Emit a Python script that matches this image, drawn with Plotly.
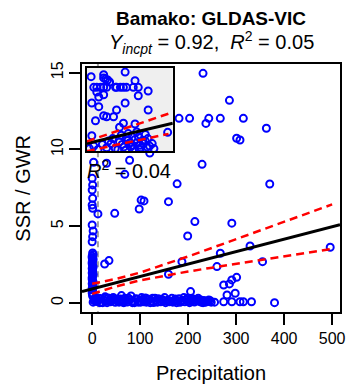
import plotly.graph_objects as go

# ---------------- data ----------------
x_ticks = [0, 100, 200, 300, 400, 500]
y_ticks = [0, 5, 10, 15]
x_range = [-21.2, 516.4]
y_range = [-0.59, 15.57]

# scattered points of the main panel
scat_x = [231, 286, 181, 203, 243, 237, 267, 315, 363, 301, 308, 229, 177, 370,
          159, 214, 291, 199, 3, 30, 78, 68, 120, 47, 12, 102, 108, 98, 26, 35,
          159, 187, 205, 267, 329, 260, 355, 496, 301, 291, 286, 274, 281, 298,
          274, 291, 308, 315, 332, 380]
scat_y = [14.96, 13.2, 12.03, 12.03, 12.03, 11.7, 12.03, 12.03, 11.38, 10.73,
          10.62, 9.03, 7.76, 7.75, 6.6, 5.3, 5.2, 4.36, 9.17, 9.1, 9.3, 8.38,
          9.77, 5.84, 5.8, 6.7, 6.65, 6.12, 2.54, 2.76, 1.87, 2.69, 0.74, 3.24,
          3.71, 2.37, 2.69, 3.63, 1.67, 1.5, 1.24, 1.17, 0.52, 0.63, 0.08, 0.08,
          0.08, 0.08, 0.08, 0.02]

# column of points at zero precipitation
col_x = [0, 1, 0, 1, 0, 1, 0, 2, 1, 0, 1, 0, 2, 0, 1, 0, 1, 2, 0, 1, 0, 2, 1, 0, 1,
         2, 0, 1, 0, 2, 1, 0, 1, 0, 2, 1, 0, 1]
col_y = [8.12, 7.69, 7.36, 6.82, 6.38, 6.17, 5.08, 4.69, 4.32, 3.99, 3.26, 3.05,
         2.85, 2.65, 2.45, 2.25, 2.05, 1.85, 1.65, 1.45, 1.25, 1.05, 0.85, 0.65, 0.45,
         3.15, 2.95, 2.75, 2.55, 2.35, 2.15, 1.95, 1.75, 1.55, 1.35, 1.15, 0.95, 0.55]

# dense band near zero
band_x = [5, 9, 14, 19, 24, 29, 33, 38, 43, 48, 53, 58, 63, 68, 73, 78, 83, 88, 93,
          98, 103, 108, 113, 118, 123, 128, 133, 138, 143, 148, 153, 158, 163, 168,
          173, 178, 183, 188, 193, 198, 203, 208, 213, 218, 223, 228, 233, 238, 243, 248]
band_y = [0.25, 0.1, 0.3, 0.05, 0.2, 0.12, 0.32, 0.08, 0.18, 0.04, 0.26, 0.1, 0.15,
          0.3, 0.06, 0.2, 0.1, 0.02, 0.24, 0.14, 0.35, 0.08, 0.05, 0.22, 0.12, 0.03,
          0.18, 0.28, 0.07, 0.15, 0.02, 0.2, 0.1, 0.05, 0.25, 0.12, 0.04, 0.18, 0.08,
          0.3, 0.02, 0.14, 0.06, 0.22, 0.1, 0.04, 0.16, 0.08, 0.2, 0.05]
band2_x = [2, 7, 12, 17, 22, 27, 36, 41, 46, 56, 61, 66, 71, 81, 86, 91, 101, 106,
           111, 121, 131, 141, 151, 161, 171, 181, 191, 201, 211, 221, 231, 241, 255]
band2_y = [0.05, 0.35, 0.15, 0.28, 0.02, 0.4, 0.1, 0.3, 0.22, 0.05, 0.48, 0.02, 0.2,
           0.45, 0.12, 0.28, 0.05, 0.25, 0.32, 0.02, 0.3, 0.15, 0.35, 0.08, 0.12,
           0.28, 0.35, 0.1, 0.25, 0.3, 0.02, 0.1, 0.05]
band3_x = [4, 11, 16, 26, 31, 39, 44, 51, 59, 64, 76, 84, 96, 109, 116, 126, 136,
           146, 156, 166, 176, 186, 196, 206, 216, 226, 236, 246]
band3_y = [0.15, 0.22, 0.02, 0.3, 0.02, 0.2, 0.35, 0.15, 0.25, 0.05, 0.3, 0.02,
           0.05, 0.18, 0.25, 0.3, 0.05, 0.22, 0.1, 0.3, 0.02, 0.1, 0.2, 0.25,
           0.15, 0.2, 0.05, 0.15]

# fit and confidence band of the main panel
fit_intercept = 0.92
fit_slope = 0.0081
ci_x = [0, 50, 100, 150, 200, 250, 300, 350, 400, 450, 500]
ci_upper = [1.25, 1.57, 1.98, 2.49, 3.03, 3.59, 4.15, 4.72, 5.28, 5.85, 6.42]
ci_lower = [0.59, 1.08, 1.47, 1.78, 2.05, 2.30, 2.55, 2.79, 3.04, 3.28, 3.52]

threshold_x = 12

# inset panel
inset_range_x = [0, 100]
inset_range_y = [0, 10]
inset_x = [4.9, 19.5, 44.5, 21.8, 24.1, 26.4, 19.5, 8, 11.5, 16.1, 19.5, 23, 33.3,
           34.5, 39, 42.5, 46, 54, 59.8, 56, 71.3, 59.8, 13.8, 11.5, 19.5, 5.7, 13.8,
           44.5, 34.5, 71.3, 19.5, 23, 31, 10, 42.5, 38, 56, 94, 5.7]
inset_y = [8.95, 9.19, 9.5, 8.67, 8.55, 8.31, 8.8, 7.67, 7.67, 7.67, 7.67, 7.67,
           7.67, 7.67, 7.67, 7.67, 7.67, 7.67, 7.67, 8.47, 7.23, 6.66, 6.5, 7.1, 6.78,
           5.78, 5.34, 5.78, 4.94, 4.94, 4.25, 4.13, 4.13, 3.65, 3.34, 2.86, 3.25,
           2.25, 1.84]
inset_dense_x = [3, 8, 13, 18, 23, 28, 33, 38, 43, 48, 53, 58, 63, 68, 73, 78, 36, 41,
                 46, 51, 56, 61, 66, 71, 76, 40, 45, 50, 55, 60, 65, 70, 48, 58, 68,
                 30, 25, 62]
inset_dense_y = [0.3, 0.6, 0.2, 0.8, 0.4, 0.9, 0.3, 1.1, 0.5, 1.3, 0.7, 1.0, 0.4, 1.2,
                 0.6, 0.3, 0.2, 0.8, 1.6, 0.5, 1.4, 0.2, 0.9, 1.5, 0.9, 1.9, 0.1, 1.0,
                 0.3, 1.7, 1.3, 0.5, 2.1, 2.3, 2.0, 1.5, 1.2, 0.7]
inset_intercept = 0.90
inset_slope = 0.0244
inset_ci_x = [0, 25, 50, 75, 95]
inset_ci_upper = [1.17, 2.05, 2.92, 3.80, 4.50]
inset_ci_lower = [-0.01, 0.54, 1.09, 1.63, 2.07]

# ---------------- figure ----------------
BLUE = "#0000FF"
FONT = "Liberation Sans, Arial, sans-serif"
marker = dict(symbol="circle-open", size=7, color=BLUE, line=dict(width=2, color=BLUE))

fig = go.Figure()

# threshold line (main)
fig.add_trace(go.Scatter(x=[threshold_x, threshold_x], y=[y_range[0] - 1, y_range[1] + 1],
                         mode="lines", line=dict(color="#A0A0A0", width=2, dash="6px,4px"),
                         xaxis="x", yaxis="y", showlegend=False))

for xs, ys in [(band_x, band_y), (band2_x, band2_y), (band3_x, band3_y),
               (col_x, col_y), (scat_x, scat_y)]:
    fig.add_trace(go.Scatter(x=xs, y=ys, mode="markers", marker=marker,
                             xaxis="x", yaxis="y", showlegend=False))

fit_x = [x_range[0], x_range[1]]
fig.add_trace(go.Scatter(x=fit_x, y=[fit_intercept + fit_slope * v for v in fit_x],
                         mode="lines", line=dict(color="black", width=3),
                         xaxis="x", yaxis="y", showlegend=False))
for ys in (ci_upper, ci_lower):
    fig.add_trace(go.Scatter(x=ci_x, y=ys, mode="lines",
                             line=dict(color="#FF0000", width=2.5, dash="8px,5px"),
                             xaxis="x", yaxis="y", showlegend=False))

# inset
for xs, ys in [(inset_dense_x, inset_dense_y), (inset_x, inset_y)]:
    fig.add_trace(go.Scatter(x=xs, y=ys, mode="markers", marker=marker,
                             xaxis="x2", yaxis="y2", showlegend=False))
ifit_x = [inset_range_x[0], inset_range_x[1]]
fig.add_trace(go.Scatter(x=ifit_x, y=[inset_intercept + inset_slope * v for v in ifit_x],
                         mode="lines", line=dict(color="black", width=3),
                         xaxis="x2", yaxis="y2", showlegend=False))
for ys in (inset_ci_upper, inset_ci_lower):
    fig.add_trace(go.Scatter(x=inset_ci_x, y=ys, mode="lines",
                             line=dict(color="#FF0000", width=2.5, dash="8px,5px"),
                             xaxis="x2", yaxis="y2", showlegend=False))

fig.add_shape(type="rect", xref="x2", yref="y2",
              x0=inset_range_x[0], x1=inset_range_x[1],
              y0=inset_range_y[0], y1=inset_range_y[1],
              fillcolor="#EFEFEF", line=dict(width=0), layer="below")

axis_common = dict(showgrid=False, zeroline=False, showline=True, linecolor="black",
                   linewidth=2, mirror=True, ticks="outside", ticklen=11, tickwidth=2,
                   tickcolor="black", tickfont=dict(family=FONT, size=16, color="black"))

# the page body has an 8px default margin, so the figure is 8px smaller
fig.update_layout(
    width=349, height=381,
    margin=dict(l=74, r=14, t=56, b=77),
    paper_bgcolor="white", plot_bgcolor="white",
    font=dict(family=FONT, color="black"),
    xaxis=dict(range=x_range, tickvals=x_ticks, domain=[0, 1], anchor="y", **axis_common),
    yaxis=dict(range=y_range, tickvals=y_ticks, tickangle=-90, domain=[0, 1], anchor="x",
               **axis_common),
    xaxis2=dict(domain=[0.019, 0.352], anchor="y2", range=inset_range_x, showgrid=False,
                zeroline=False, showline=True, linecolor="black", linewidth=2, mirror=True,
                showticklabels=False, ticks=""),
    yaxis2=dict(domain=[0.649, 0.984], anchor="x2", range=inset_range_y, showgrid=False,
                zeroline=False, showline=True, linecolor="black", linewidth=2, mirror=True,
                showticklabels=False, ticks=""),
    annotations=[
        dict(text="<b>Bamako: GLDAS-VIC</b>", xref="paper", yref="paper", x=0.5, y=1.182,
             showarrow=False, font=dict(family=FONT, size=19), xanchor="center", yanchor="middle"),
        dict(text="<i>Y</i><sub><i>incpt</i></sub> = 0.92,\u00a0\u00a0<i>R</i><sup>2</sup> = 0.05",
             xref="paper", yref="paper", x=0.5, y=1.085, showarrow=False,
             font=dict(family=FONT, size=20), xanchor="center", yanchor="middle"),
        dict(text="SSR / GWR", xref="paper", yref="paper", x=-0.23, y=0.5, textangle=-90,
             showarrow=False, font=dict(family=FONT, size=20), xanchor="center", yanchor="middle"),
        dict(text="Precipitation", xref="paper", yref="paper", x=0.5, y=-0.246,
             showarrow=False, font=dict(family=FONT, size=20), xanchor="center", yanchor="middle"),
        dict(text="<i>R</i><sup>2</sup> = 0.04", xref="paper", yref="paper", x=0.184, y=0.5726,
             showarrow=False, font=dict(family=FONT, size=20), xanchor="center", yanchor="middle"),
    ],
)

fig.write_html("out.html")
